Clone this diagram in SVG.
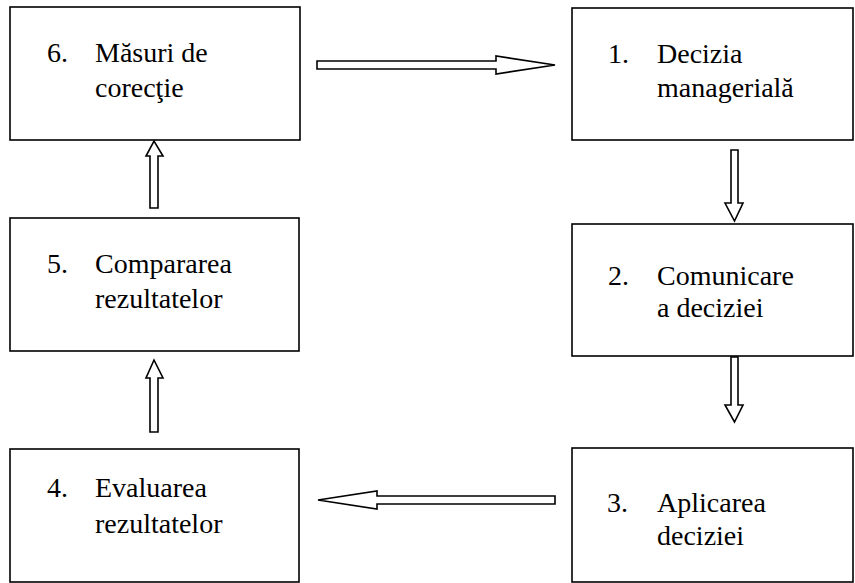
<svg xmlns="http://www.w3.org/2000/svg" width="855" height="583" viewBox="0 0 855 583">
<style>
.box{fill:#fff;stroke:#000;stroke-width:1.6}
.arr{fill:#fff;stroke:#000;stroke-width:1.6;stroke-linejoin:miter}
.t{font-family:'Liberation Serif','Times New Roman','DejaVu Serif',serif;font-size:28px;fill:#000}
</style>
<rect width="855" height="583" fill="#fff"/>
<g id="connectors">
<polygon class="arr" points="317,61 496,61 496,56 555,65 496,74 496,69 317,69"/>
<polygon class="arr" points="731,150 738,150 738,203 743,203 734.5,221 725,203 731,203"/>
<polygon class="arr" points="731,357 738,357 738,405 743,405 734.5,422 725,405 731,405"/>
<polygon class="arr" points="555,496 377,496 377,491 318,500 377,509 377,504 555,504"/>
<polygon class="arr" points="150,432 158,432 158,378 163,378 154,360 146,378 150,378"/>
<polygon class="arr" points="150,208 158,208 158,156 163,156 154,141 146,156 150,156"/>
</g>
<g id="n6" class="t" font-family="Liberation Serif, serif">
<rect class="box" x="10" y="7" width="290" height="133"/>
<text x="47" y="62">6.</text>
<text x="95" y="62">Măsuri de</text>
<text x="95" y="97">corecţie</text>
</g>
<g id="n1" class="t" font-family="Liberation Serif, serif">
<rect class="box" x="572" y="8" width="281" height="132"/>
<text x="608" y="63">1.</text>
<text x="657" y="63">Decizia</text>
<text x="657" y="97">managerială</text>
</g>
<g id="n5" class="t" font-family="Liberation Serif, serif">
<rect class="box" x="10" y="218" width="289" height="133"/>
<text x="47" y="273">5.</text>
<text x="95" y="273">Compararea</text>
<text x="95" y="308">rezultatelor</text>
</g>
<g id="n2" class="t" font-family="Liberation Serif, serif">
<rect class="box" x="572" y="224" width="281" height="132"/>
<text x="608" y="285">2.</text>
<text x="657" y="285">Comunicare</text>
<text x="657" y="317">a deciziei</text>
</g>
<g id="n4" class="t" font-family="Liberation Serif, serif">
<rect class="box" x="10" y="449" width="289" height="133"/>
<text x="47" y="497">4.</text>
<text x="95" y="497">Evaluarea</text>
<text x="95" y="533">rezultatelor</text>
</g>
<g id="n3" class="t" font-family="Liberation Serif, serif">
<rect class="box" x="572" y="448" width="281" height="134"/>
<text x="607" y="512">3.</text>
<text x="657" y="512">Aplicarea</text>
<text x="657" y="545">deciziei</text>
</g>
</svg>
